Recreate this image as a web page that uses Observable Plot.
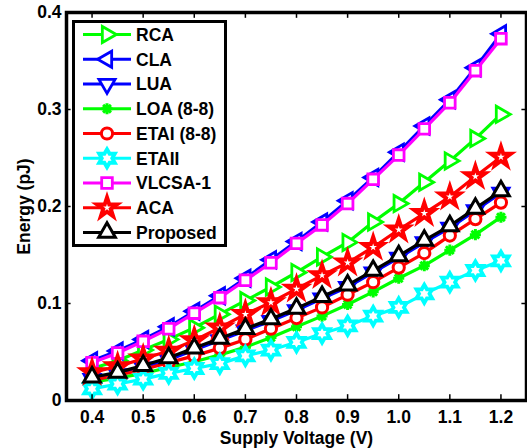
<!DOCTYPE html>
<html><head><meta charset="utf-8">
<script src="https://cdn.jsdelivr.net/npm/d3@7"></script>
<script src="https://cdn.jsdelivr.net/npm/@observablehq/plot@0.6"></script>
<style>
body{margin:0;background:#fff;}
#wrap{position:relative;width:527px;height:448px;font-family:"Liberation Sans",Arial,sans-serif;}
#legend{position:absolute;left:0;top:0;pointer-events:none;}
</style></head><body><div id="wrap"></div>
<script>
// ---- data ----
const voltage = [0.40,0.45,0.50,0.55,0.60,0.65,0.70,0.75,0.80,0.85,0.90,0.95,1.00,1.05,1.10,1.15,1.20];
const RCA      = [0.033,0.041,0.052,0.063,0.075,0.089,0.103,0.117,0.132,0.148,0.163,0.184,0.203,0.225,0.247,0.270,0.295];
const CLA      = [0.041,0.051,0.063,0.076,0.092,0.108,0.126,0.145,0.164,0.184,0.206,0.230,0.256,0.283,0.310,0.343,0.378];
const LUA      = [0.022,0.027,0.034,0.042,0.052,0.062,0.072,0.082,0.093,0.105,0.117,0.132,0.147,0.163,0.178,0.196,0.214];
const LOA      = [0.019,0.023,0.028,0.034,0.040,0.047,0.055,0.065,0.076,0.087,0.099,0.112,0.126,0.139,0.155,0.171,0.189];
const ETAI     = [0.021,0.026,0.032,0.039,0.046,0.054,0.063,0.074,0.085,0.096,0.109,0.122,0.137,0.152,0.170,0.187,0.204];
const ETAII    = [0.012,0.017,0.022,0.028,0.033,0.038,0.046,0.052,0.060,0.069,0.077,0.087,0.096,0.110,0.122,0.134,0.144];
const VLCSA1   = [0.039,0.049,0.061,0.074,0.090,0.106,0.124,0.142,0.162,0.181,0.203,0.228,0.253,0.280,0.307,0.340,0.373];
const ACA      = [0.029,0.035,0.043,0.051,0.062,0.075,0.089,0.101,0.115,0.129,0.142,0.158,0.176,0.193,0.210,0.231,0.251];
const Proposed = [0.024,0.029,0.036,0.044,0.054,0.064,0.074,0.084,0.095,0.107,0.119,0.134,0.149,0.165,0.180,0.198,0.216];

const seriesNames = ["RCA","CLA","LUA","LOA (8-8)","ETAI (8-8)","ETAII","VLCSA-1","ACA","Proposed"];
const seriesValues = [RCA, CLA, LUA, LOA, ETAI, ETAII, VLCSA1, ACA, Proposed];

const xTicks = [0.4,0.5,0.6,0.7,0.8,0.9,1.0,1.1,1.2];
const xTickLabels = ["0.4","0.5","0.6","0.7","0.8","0.9","1.0","1.1","1.2"];
const yTicks = [0,0.1,0.2,0.3,0.4];
const yTickLabels = ["0","0.1","0.2","0.3","0.4"];

// ---- styles ----
const hexagram = {draw(ctx, size){
  const R = Math.sqrt(size) * 0.85, r = R / Math.sqrt(3);
  for (let i = 0; i < 12; i++) {
    const a = -Math.PI/2 + i * Math.PI/6, rr = i % 2 ? r : R;
    const x = rr*Math.cos(a), y = rr*Math.sin(a);
    i ? ctx.lineTo(x,y) : ctx.moveTo(x,y);
  }
  ctx.closePath();
}};
const asterisk8 = {draw(ctx, size){
  const R = Math.sqrt(size) * 0.6;
  for (let i = 0; i < 4; i++) {
    const a = i * Math.PI/4;
    ctx.moveTo(R*Math.cos(a), R*Math.sin(a));
    ctx.lineTo(-R*Math.cos(a), -R*Math.sin(a));
  }
}};
const styles = [
  {color:"#00ff00", symbol:d3.symbolTriangle, rotate:90,  r:6.0, fill:"white", sw:2.8},
  {color:"#0000ff", symbol:d3.symbolTriangle, rotate:-90, r:6.0, fill:"white", sw:2.8},
  {color:"#0000ff", symbol:d3.symbolTriangle, rotate:180, r:6.0, fill:"white", sw:2.8},
  {color:"#00ff00", symbol:asterisk8,         rotate:0,   r:5.2, fill:"none",  sw:3},
  {color:"#ff0000", symbol:d3.symbolCircle,   rotate:0,   r:5.6, fill:"white", sw:3},
  {color:"#00ffff", symbol:hexagram,          rotate:0,   r:6.0, fill:"white", sw:3.8},
  {color:"#ff00ff", symbol:d3.symbolSquare,   rotate:0,   r:6.0, fill:"white", sw:2.8},
  {color:"#ff0000", symbol:d3.symbolStar,     rotate:0,   r:6.2, fill:"white", sw:4},
  {color:"#000000", symbol:d3.symbolTriangle, rotate:0,   r:6.2, fill:"white", sw:3}
];

const rows = seriesNames.map((name, i) => voltage.map((v, j) => ({v, e: seriesValues[i][j], s: name})));

const font = "Liberation Sans, Arial, sans-serif";
const fs = 17.5;

const marks = [];
rows.forEach((data, i) => {
  const st = styles[i];
  marks.push(Plot.line(data, {x:"v", y:"e", stroke:st.color, strokeWidth:3.2}));
  marks.push(Plot.dot(data, {x:"v", y:"e", symbol:st.symbol, r:st.r, rotate:st.rotate,
    stroke:st.color, fill:st.fill, strokeWidth:st.sw}));
});

const chart = Plot.plot({
  width:527, height:448,
  marginLeft:66, marginRight:1, marginTop:12, marginBottom:48,
  style:{fontFamily:font, fontSize:fs+"px", fontWeight:"bold", color:"black", background:"white"},
  x:{domain:[0.35,1.25]},
  y:{domain:[0,0.4]},
  marks:[
    ...marks,
    Plot.ruleX(xTicks, {x:d=>d, y1:0, y2:0.006, stroke:"black", strokeWidth:1.5}),
    Plot.ruleX(xTicks, {x:d=>d, y1:0.4, y2:0.394, stroke:"black", strokeWidth:1.5}),
    Plot.ruleY(yTicks, {y:d=>d, x1:0.35, x2:0.359, stroke:"black", strokeWidth:1.5}),
    Plot.ruleY(yTicks, {y:d=>d, x1:1.25, x2:1.241, stroke:"black", strokeWidth:1.5}),
    Plot.frame({stroke:"black", strokeWidth:3.5}),
    Plot.axisX({ticks:xTicks, tickFormat:(d,i)=>xTickLabels[i], tickSize:0, tickPadding:10,
      fontSize:fs, fontWeight:"bold", label:"Supply Voltage (V)", labelAnchor:"center", labelArrow:"none", labelOffset:43}),
    Plot.axisY({ticks:yTicks, tickFormat:(d,i)=>yTickLabels[i], tickSize:0, tickPadding:5,
      fontSize:fs, fontWeight:"bold", label:"Energy (pJ)", labelAnchor:"center", labelArrow:"none", labelOffset:49})
  ]
});
const wrap = document.getElementById("wrap");
wrap.appendChild(chart);

// ---- legend overlay ----
const lg = d3.select(wrap).append("svg").attr("id","legend").attr("width",527).attr("height",448);
lg.append("rect").attr("x",73.5).attr("y",21.5).attr("width",152).attr("height",224)
  .attr("fill","white").attr("stroke","black").attr("stroke-width",3);
seriesNames.forEach((name, i) => {
  const st = styles[i], cy = 34.5 + i*24.75;
  const g = lg.append("g");
  g.append("line").attr("x1",83).attr("x2",131).attr("y1",cy).attr("y2",cy)
    .attr("stroke",st.color).attr("stroke-width",3.2);
  g.append("path").attr("d", d3.symbol(st.symbol, Math.PI*st.r*st.r)())
    .attr("transform",`translate(107,${cy}) rotate(${st.rotate})`)
    .attr("fill",st.fill).attr("stroke",st.color).attr("stroke-width",st.sw);
  g.append("text").attr("x",136).attr("y",cy).attr("dy","0.36em")
    .attr("font-family",font).attr("font-size",fs).attr("font-weight","bold").text(name);
});
</script></body></html>
